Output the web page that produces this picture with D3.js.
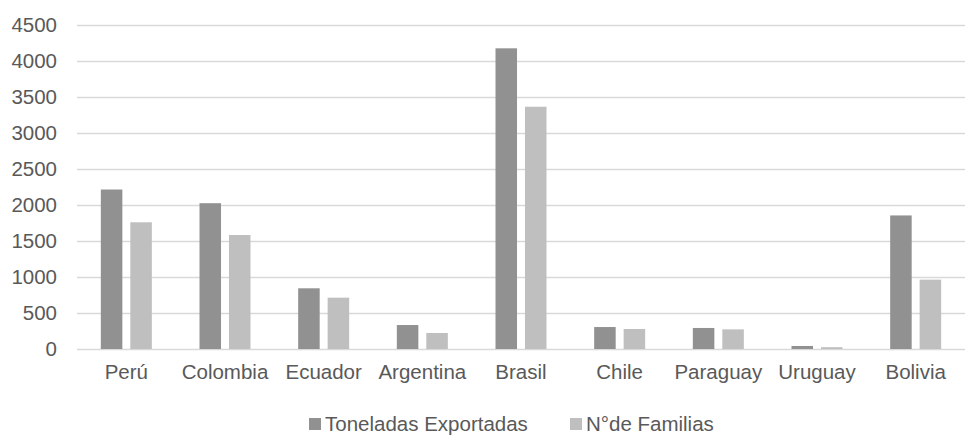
<!DOCTYPE html>
<html>
<head>
<meta charset="utf-8">
<script src="https://cdn.jsdelivr.net/npm/d3@7"></script>
<style>
  body { margin: 0; background: #fff; }
  text { font-family: "Liberation Sans", Arial, sans-serif; fill: #595959; }
</style>
</head>
<body>
<div id="chart"></div>
<script>
var paises = ["Perú", "Colombia", "Ecuador", "Argentina", "Brasil", "Chile", "Paraguay", "Uruguay", "Bolivia"];
var toneladas = [2215, 2025, 843, 333, 4176, 305, 292, 42, 1855];
var familias = [1760, 1583, 713, 222, 3365, 278, 273, 25, 963];
var yTicks = [0, 500, 1000, 1500, 2000, 2500, 3000, 3500, 4000, 4500];
var serieNombres = ["Toneladas Exportadas", "N°de Familias"];
var colores = ["#919191", "#bfbfbf"];

var W = 966, H = 435;
var margin = { top: 25, right: 1, bottom: 86, left: 77 },
  width = W - margin.left - margin.right,
  height = H - margin.top - margin.bottom;

var svg = d3.select("#chart").append("svg")
  .attr("width", W).attr("height", H);
var g = svg.append("g")
  .attr("transform", "translate(" + margin.left + "," + margin.top + ")");

// scales
var x = d3.scaleBand().domain(paises).range([0, width]);
var x1 = d3.scaleBand().domain([0, 1]).range([0, 51]).paddingInner(0.27);
var y = d3.scaleLinear().domain([0, 4500]).range([height, 0]);

// gridlines
g.selectAll(".grid").data(yTicks).enter().append("line")
  .attr("x1", 0).attr("x2", width)
  .attr("y1", function(d) { return y(d) + 0.5; })
  .attr("y2", function(d) { return y(d) + 0.5; })
  .attr("stroke", "#d9d9d9").attr("stroke-width", 1.3);

// y labels
g.selectAll(".ylab").data(yTicks).enter().append("text")
  .attr("x", -20).attr("y", function(d) { return y(d); })
  .attr("dy", "0.35em").attr("text-anchor", "end")
  .style("font-size", "20.5px")
  .text(function(d) { return d; });

// bars
var series = [toneladas, familias];
series.forEach(function(vals, s) {
  g.selectAll(".bar" + s).data(paises).enter().append("rect")
    .attr("x", function(d) { return x(d) + x.bandwidth() / 2 - 25.5 + x1(s); })
    .attr("width", x1.bandwidth())
    .attr("y", function(d, i) { return y(vals[i]); })
    .attr("height", function(d, i) { return height - y(vals[i]); })
    .attr("fill", colores[s]);
});

// x labels
g.selectAll(".xlab").data(paises).enter().append("text")
  .attr("x", function(d) { return x(d) + x.bandwidth() / 2; })
  .attr("y", height + 30)
  .attr("text-anchor", "middle")
  .style("font-size", "20.5px")
  .text(function(d) { return d; });

// legend
var legX = [309, 570];
serieNombres.forEach(function(n, i) {
  var lg = svg.append("g").attr("transform", "translate(" + legX[i] + ",418)");
  lg.append("rect").attr("x", 0).attr("y", 0).attr("width", 12).attr("height", 12)
    .attr("fill", colores[i]);
  lg.append("text").attr("x", 16).attr("y", 6).attr("dy", "0.35em")
    .style("font-size", "20.5px").text(n);
});
</script>
</body>
</html>
